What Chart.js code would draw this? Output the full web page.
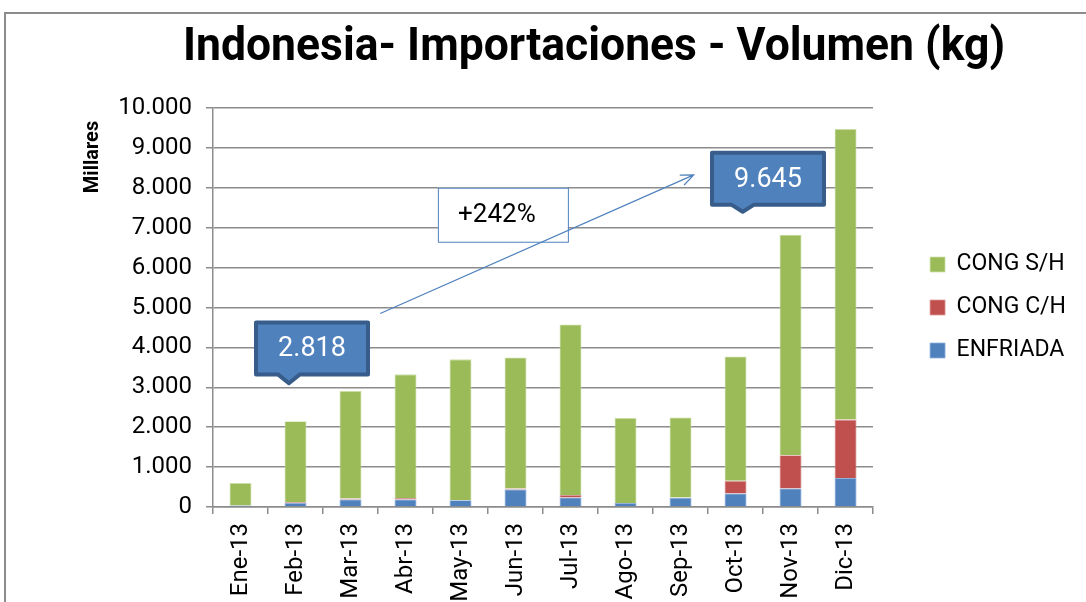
<!DOCTYPE html>
<html>
<head>
<meta charset="utf-8">
<title>Indonesia- Importaciones - Volumen (kg)</title>
<script src="https://cdn.jsdelivr.net/npm/chart.js@4.4.1/dist/chart.umd.min.js"></script>
<style>
    html, body { margin: 0; padding: 0; background: #fff; }
    #contenedor { width: 1086px; height: 602px; }
</style>
</head>
<body>
<div id="contenedor"><canvas id="graficoIndonesia"></canvas></div>
<script>
// Datos mensuales (miles de kg)
const meses = ["Ene-13", "Feb-13", "Mar-13", "Abr-13", "May-13", "Jun-13", "Jul-13", "Ago-13", "Sep-13", "Oct-13", "Nov-13", "Dic-13"];
const enfriada = [40, 100, 190, 190, 170, 440, 240, 100, 230, 340, 465, 725];
const congCH = [0, 20, 20, 35, 5, 25, 60, 0, 5, 315, 835, 1465];
const congSH = [560, 2030, 2700, 3100, 3525, 3285, 4275, 2130, 2010, 3120, 5525, 7285];
const ticksY = [0, 1000, 2000, 3000, 4000, 5000, 6000, 7000, 8000, 9000, 10000];

const tituloGrafico = "Indonesia- Importaciones - Volumen (kg)";
const tituloEjeY = "Millares";
const textoVariacion = "+242%";
const textoInicio = "2.818";
const textoFin = "9.645";

const gris = "#8c8c8c";

function formatoMiles(v) {
    return String(v).replace(/\B(?=(\d{3})+(?!\d))/g, ".");
}

// Globos con pico hacia abajo (posición en índice de mes / valor del eje)
function dibujarGlobo(ctx, sx, sy, texto, cx, cy, punta, puntaY) {
    const x = sx.getPixelForValue(cx), y = sy.getPixelForValue(cy);
    const px = sx.getPixelForValue(punta), py = sy.getPixelForValue(puntaY);
    const w = 112, h = 52;
    ctx.save();
    ctx.lineJoin = "round";
    ctx.fillStyle = "#4F81BD";
    ctx.strokeStyle = "#385D8A";
    ctx.lineWidth = 4;
    ctx.beginPath();
    ctx.moveTo(x - w / 2, y - h / 2);
    ctx.lineTo(x + w / 2, y - h / 2);
    ctx.lineTo(x + w / 2, y + h / 2);
    ctx.lineTo(px + 11, y + h / 2);
    ctx.lineTo(px, py);
    ctx.lineTo(px - 11, y + h / 2);
    ctx.lineTo(x - w / 2, y + h / 2);
    ctx.closePath();
    ctx.fill();
    ctx.stroke();
    ctx.fillStyle = "#fff";
    ctx.font = "27px Roboto";
    ctx.textAlign = "center";
    ctx.textBaseline = "middle";
    ctx.fillText(texto, x, y + 1);
    ctx.restore();
}

const anotaciones = {
    id: "anotaciones",
    beforeDraw(chart) {
        const ctx = chart.ctx;
        ctx.save();
        // marco exterior
        ctx.strokeStyle = gris;
        ctx.lineWidth = 2;
        ctx.beginPath();
        ctx.moveTo(5, 602);
        ctx.lineTo(5, 13);
        ctx.lineTo(1086, 13);
        ctx.stroke();
        // titulo (condensado para que quepa entre 183 y 1005)
        ctx.fillStyle = "#000";
        ctx.font = "bold 46px Roboto";
        ctx.textAlign = "center";
        ctx.textBaseline = "middle";
        const ancho = ctx.measureText(tituloGrafico).width;
        ctx.save();
        ctx.translate(594, 48);
        ctx.scale(Math.min(1, 822 / ancho), 1);
        ctx.fillText(tituloGrafico, 0, 0);
        ctx.restore();
        // titulo del eje Y
        ctx.translate(93, 157);
        ctx.rotate(-Math.PI / 2);
        ctx.font = "bold 20px Roboto";
        ctx.fillText(tituloEjeY, 0, 0);
        ctx.restore();
    },
    afterDatasetsDraw(chart) {
        const ctx = chart.ctx;
        const sx = chart.scales.x, sy = chart.scales.y;

        // recuadro del porcentaje
        const bx = sx.getPixelForValue(4.77), by = sy.getPixelForValue(7325);
        ctx.save();
        ctx.fillStyle = "#fff";
        ctx.strokeStyle = "#4F81BD";
        ctx.lineWidth = 1;
        ctx.fillRect(bx - 65, by - 27, 130, 54);
        ctx.strokeRect(bx - 65 + 0.5, by - 27 + 0.5, 130, 54);
        ctx.fillStyle = "#000";
        ctx.font = "26px Roboto";
        ctx.textAlign = "center";
        ctx.textBaseline = "middle";
        ctx.fillText(textoVariacion, bx - 6, by + 1);

        // flecha de crecimiento
        const x1 = sx.getPixelForValue(2.54), y1 = sy.getPixelForValue(4850);
        const x2 = sx.getPixelForValue(8.24), y2 = sy.getPixelForValue(8325);
        const ang = Math.atan2(y2 - y1, x2 - x1);
        ctx.strokeStyle = "#4F81BD";
        ctx.lineWidth = 1.2;
        ctx.beginPath();
        ctx.moveTo(x1, y1);
        ctx.lineTo(x2, y2);
        ctx.moveTo(x2 - 14 * Math.cos(ang - 0.4), y2 - 14 * Math.sin(ang - 0.4));
        ctx.lineTo(x2, y2);
        ctx.lineTo(x2 - 14 * Math.cos(ang + 0.4), y2 - 14 * Math.sin(ang + 0.4));
        ctx.stroke();
        ctx.restore();

        dibujarGlobo(ctx, sx, sy, textoInicio, 1.3, 3975, 0.88, 3100);
        dibujarGlobo(ctx, sx, sy, textoFin, 9.59, 8225, 9.13, 7400);
    }
};

const ctx = document.getElementById("graficoIndonesia").getContext("2d");

new Chart(ctx, {
    type: "bar",
    data: {
        labels: meses,
        datasets: [
            { label: "ENFRIADA", data: enfriada, backgroundColor: "#4F81BD", borderColor: "#8fb0dc", borderWidth: 0.8 },
            { label: "CONG C/H", data: congCH, backgroundColor: "#C0504D", borderColor: "#dc9a98", borderWidth: 0.8 },
            { label: "CONG S/H", data: congSH, backgroundColor: "#9BBB59", borderColor: "#cfe2ab", borderWidth: 0.8 }
        ]
    },
    options: {
        responsive: true,
        maintainAspectRatio: false,
        animation: false,
        layout: { padding: { top: 108, right: 10, bottom: 0, left: 0 } },
        datasets: { bar: { categoryPercentage: 1, barPercentage: 0.4 } },
        plugins: {
            legend: {
                position: "right",
                fullSize: false,
                reverse: true,
                labels: {
                    font: { family: "Roboto", size: 23 },
                    color: "#000",
                    boxWidth: 15,
                    boxHeight: 15,
                    padding: 20
                }
            },
            tooltip: { enabled: false },
            title: { display: false }
        },
        scales: {
            x: {
                stacked: true,
                grid: { display: true, drawOnChartArea: false, drawTicks: true, tickLength: 7, color: gris, lineWidth: 1.5 },
                border: { color: gris, width: 1.5 },
                ticks: {
                    color: "#000",
                    font: { family: "Roboto", size: 24 },
                    minRotation: 90,
                    maxRotation: 90,
                    padding: 9
                },
                afterFit(s) { s.height = 95; }
            },
            y: {
                stacked: true,
                min: 0,
                max: 10000,
                afterBuildTicks(s) { s.ticks = ticksY.map(v => ({ value: v })); },
                grid: { color: gris, lineWidth: 1.5, tickLength: 7 },
                border: { color: gris, width: 1.5 },
                ticks: {
                    color: "#000",
                    font: { family: "Roboto", size: 24 },
                    padding: 14,
                    callback: v => formatoMiles(v)
                },
                afterFit(s) { s.width = 213; }
            },
            hueco: {
                position: "right",
                display: true,
                grid: { display: false },
                border: { display: false },
                ticks: { display: false },
                afterFit(s) { s.width = 37; }
            }
        }
    },
    plugins: [anotaciones]
});
</script>
</body>
</html>
